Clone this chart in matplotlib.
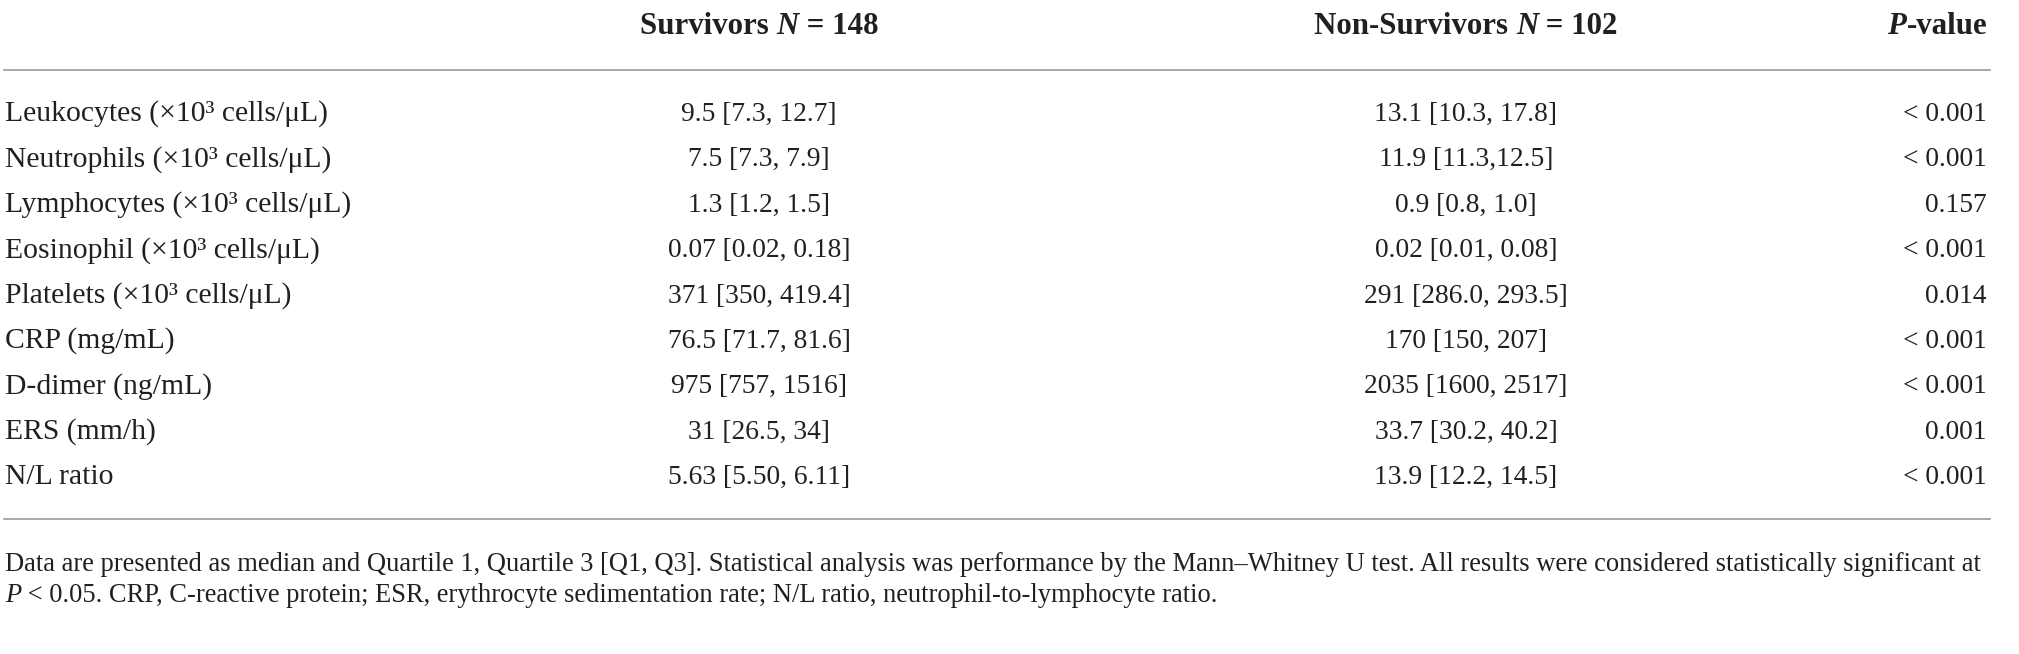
import matplotlib
matplotlib.use("Agg")
import matplotlib.pyplot as plt

# ---------------- data ----------------
variables = [
    "Leukocytes (×10³ cells/μL)",
    "Neutrophils (×10³ cells/μL)",
    "Lymphocytes (×10³ cells/μL)",
    "Eosinophil (×10³ cells/μL)",
    "Platelets (×10³ cells/μL)",
    "CRP (mg/mL)",
    "D-dimer (ng/mL)",
    "ERS (mm/h)",
    "N/L ratio",
]
survivors = [
    "9.5 [7.3, 12.7]", "7.5 [7.3, 7.9]", "1.3 [1.2, 1.5]", "0.07 [0.02, 0.18]",
    "371 [350, 419.4]", "76.5 [71.7, 81.6]", "975 [757, 1516]", "31 [26.5, 34]",
    "5.63 [5.50, 6.11]",
]
non_survivors = [
    "13.1 [10.3, 17.8]", "11.9 [11.3,12.5]", "0.9 [0.8, 1.0]", "0.02 [0.01, 0.08]",
    "291 [286.0, 293.5]", "170 [150, 207]", "2035 [1600, 2517]", "33.7 [30.2, 40.2]",
    "13.9 [12.2, 14.5]",
]
p_values = ["< 0.001", "< 0.001", "0.157", "< 0.001", "0.014", "< 0.001",
            "< 0.001", "0.001", "< 0.001"]

header_survivors = [("Survivors ", "normal"), ("N", "italic"), (" = 148", "normal")]
header_non = [("Non-Survivors ", "normal"), ("N", "italic"), (" = 102", "normal")]
header_p = [("P", "italic"), ("-value", "normal")]

footnote1 = ("Data are presented as median and Quartile 1, Quartile 3 [Q1, Q3]. "
             "Statistical analysis was performance by the Mann\u2013Whitney U test. "
             "All results were considered statistically significant at")
footnote2 = [("P", "italic"),
             (" < 0.05. CRP, C-reactive protein; ESR, erythrocyte sedimentation rate; "
              "N/L ratio, neutrophil-to-lymphocyte ratio.", "normal")]

# ---------------- layout ----------------
W, H = 2019, 654
FAM = "Liberation Serif"
TXT = "#231f20"
LINE = "#9a9a9a"

fig = plt.figure(figsize=(W / 100, H / 100), dpi=100)
fig.patch.set_facecolor("white")
renderer = fig.canvas.get_renderer()


def fx(x):
    return x / W


def fy(y):
    return 1 - y / H


def width_of(s, size, weight="normal", style="normal"):
    t = fig.text(0, 0, s + "|", fontsize=size, family=FAM, weight=weight, style=style)
    t2 = fig.text(0, 0, "|", fontsize=size, family=FAM, weight=weight, style=style)
    w = t.get_window_extent(renderer).width - t2.get_window_extent(renderer).width
    t.remove()
    t2.remove()
    return w


def fit(s, target, weight="normal", style="normal"):
    return 20 * target / width_of(s, 20, weight, style)


def draw_runs(x, ybase, runs, size, weight, ha):
    widths = [width_of(s, size, weight, st) for s, st in runs]
    total = sum(widths)
    if ha == "center":
        x0 = x - total / 2
    elif ha == "right":
        x0 = x - total
    else:
        x0 = x
    for (s, st), w in zip(runs, widths):
        fig.text(fx(x0), fy(ybase), s, fontsize=size, family=FAM, weight=weight,
                 style=st, color=TXT, ha="left", va="baseline")
        x0 += w


value_size = fit("9.5 [7.3, 12.7]", 156)
label_size = fit("Leukocytes (×10³ cells/μL)", 322)
head_size = fit("Survivors N = 148", 238, weight="bold")
foot_size = fit(footnote1, 1982)

x_left = 5
x_surv = 759
x_non = 1466
x_p = 1987
line_x0, line_x1 = 4, 1990

head_base = 34
top_line = 70
row_base0 = 121
row_step = 45.4
bottom_line = 519
foot_base = [571, 602]

# header
draw_runs(x_surv, head_base, header_survivors, head_size, "bold", "center")
draw_runs(x_non, head_base, header_non, head_size, "bold", "center")
draw_runs(x_p, head_base, header_p, head_size, "bold", "right")

# rules
for yl in (top_line, bottom_line):
    fig.add_artist(plt.Line2D([fx(line_x0), fx(line_x1)], [fy(yl), fy(yl)],
                              color=LINE, lw=1.2, transform=fig.transFigure))

# body rows
for i, (v, s, n, p) in enumerate(zip(variables, survivors, non_survivors, p_values)):
    yb = row_base0 + i * row_step
    fig.text(fx(x_left), fy(yb), v, fontsize=label_size, family=FAM, color=TXT,
             ha="left", va="baseline")
    fig.text(fx(x_surv), fy(yb), s, fontsize=value_size, family=FAM, color=TXT,
             ha="center", va="baseline")
    fig.text(fx(x_non), fy(yb), n, fontsize=value_size, family=FAM, color=TXT,
             ha="center", va="baseline")
    fig.text(fx(x_p), fy(yb), p, fontsize=value_size, family=FAM, color=TXT,
             ha="right", va="baseline")

# footnote
fig.text(fx(x_left), fy(foot_base[0]), footnote1, fontsize=foot_size, family=FAM,
         color=TXT, ha="left", va="baseline")
draw_runs(x_left, foot_base[1], footnote2, foot_size, "normal", "left")

fig.savefig("out.png", dpi=100, facecolor="white")
